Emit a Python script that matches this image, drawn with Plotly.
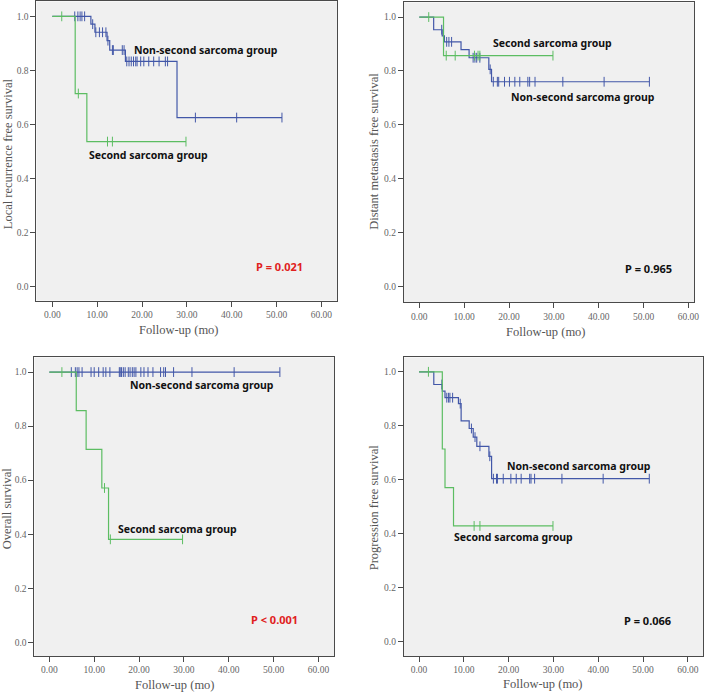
import plotly.graph_objects as go

# ---------------- data ----------------
x_tick_vals = [0, 10, 20, 30, 40, 50, 60]
x_tick_text = ["0.00", "10.00", "20.00", "30.00", "40.00", "50.00", "60.00"]
y_tick_vals = [0.0, 0.2, 0.4, 0.6, 0.8, 1.0]
y_tick_text = ["0.0", "0.2", "0.4", "0.6", "0.8", "1.0"]

# Panel A: local recurrence free survival
lr_non_event_t = [8.6, 9.5, 12.2, 12.8, 16.3, 27.8]
lr_non_surv = [0.971, 0.941, 0.910, 0.875, 0.833, 0.625]
lr_non_cens = [5.0, 5.7, 6.2, 6.6, 7.2, 9.0, 9.7, 10.5, 11.2, 11.95, 12.4, 13.4, 13.6, 15.6, 16.0,
               16.6, 17.1, 17.6, 18.1, 18.6, 18.9, 19.7, 20.4, 21.5, 22.6, 23.8, 25.2, 25.7,
               31.9, 41.1, 51.2]
lr_sec_event_t = [5.1, 7.7]
lr_sec_surv = [0.714, 0.536]
lr_sec_cens = [2.1, 5.8, 12.3, 13.4, 29.8]

# Panel B: distant metastasis free survival
dm_non_event_t = [3.2, 5.1, 5.6, 9.3, 11.1, 15.5, 16.1]
dm_non_surv = [0.953, 0.930, 0.908, 0.879, 0.849, 0.806, 0.760]
dm_non_cens = [5.0, 6.1, 6.6, 7.2, 12.0, 12.4, 12.8, 13.5, 15.8,
               16.5, 17.4, 17.7, 19.0, 20.1, 21.3, 22.4, 24.2, 24.6, 25.8, 32.0, 41.2, 51.3]
dm_sec_event_t = [5.4]
dm_sec_surv = [0.857]
dm_sec_cens = [2.1, 6.0, 8.0, 12.3, 13.1, 13.5, 29.8]

# Panel C: overall survival
os_non_event_t = []
os_non_surv = []
os_non_cens = [4.9, 5.8, 6.2, 6.6, 7.3, 9.3, 10.0, 11.0, 12.0, 12.6, 13.5, 15.6, 15.8, 16.1,
               16.5, 16.9, 17.6, 18.0, 18.5, 18.9, 19.3, 20.4, 21.1, 22.0, 23.1, 24.8, 25.5,
               25.9, 27.7, 31.8, 41.2, 51.4]
os_sec_event_t = [6.0, 8.2, 11.7, 13.2]
os_sec_surv = [0.857, 0.714, 0.571, 0.381]
os_sec_cens = [2.8, 12.3, 13.6, 29.7]

# Panel D: progression free survival
pfs_non_event_t = [3.3, 5.2, 5.8, 8.8, 9.4, 11.2, 12.1, 12.9, 15.6, 16.2]
pfs_non_surv = [0.953, 0.928, 0.904, 0.882, 0.818, 0.790, 0.758, 0.724, 0.687, 0.604]
pfs_non_cens = [5.1, 6.2, 6.6, 6.9, 7.5, 9.2, 11.7, 12.5, 13.6, 15.8, 16.6, 17.3, 17.5, 18.8,
                20.5, 21.7, 22.8, 24.7, 25.0, 25.8, 31.9, 41.1, 51.4]
pfs_sec_event_t = [5.2, 5.8, 7.7]
pfs_sec_surv = [0.714, 0.571, 0.429]
pfs_sec_cens = [2.1, 12.3, 13.6, 29.9]

y_titles = ["Local recurrence free survival", "Distant metastasis free survival",
            "Overall survival", "Progression free survival"]
x_title = "Follow-up (mo)"
p_texts = ["P = 0.021", "P = 0.965", "P < 0.001", "P = 0.066"]
non_label = "Non-second sarcoma group"
sec_label = "Second sarcoma group"

# ---------------- styling / layout ----------------
BLUE = "#4257a8"
GREEN = "#5cbd62"
W, H = 709, 692

panels = [
    dict(non=(lr_non_event_t, lr_non_surv, lr_non_cens), sec=(lr_sec_event_t, lr_sec_surv, lr_sec_cens),
         xpx=(36.7, 339.3), ypx=(0.5, 300), xr=[-3.54, 63.45], yr=[-0.053, 1.055],
         non_pos=(17.8, 0.874), sec_pos=(7.7, 0.485), p_pos=(44.9, 0.073), p_color="#e02020",
         ytitle_px=(7.5, 153), xtitle_px=(180.7, 329)),
    dict(non=(dm_non_event_t, dm_non_surv, dm_non_cens), sec=(dm_sec_event_t, dm_sec_surv, dm_sec_cens),
         xpx=(406.7, 699.0), ypx=(1.5, 301.7), xr=[-3.45, 61.26], yr=[-0.058, 1.054],
         non_pos=(20.1, 0.704), sec_pos=(16.0, 0.904), p_pos=(45.4, 0.069), p_color="#111111",
         ytitle_px=(376.7, 151), xtitle_px=(550, 331.5)),
    dict(non=(os_non_event_t, os_non_surv, os_non_cens), sec=(os_sec_event_t, os_sec_surv, os_sec_cens),
         xpx=(34.7, 336.7), ypx=(357, 656), xr=[-3.32, 63.54], yr=[-0.051, 1.054],
         non_pos=(17.6, 0.952), sec_pos=(14.8, 0.419), p_pos=(44.5, 0.085), p_color="#e02020",
         ytitle_px=(7.0, 508), xtitle_px=(175.8, 684.5)),
    dict(non=(pfs_non_event_t, pfs_non_surv, pfs_non_cens), sec=(pfs_sec_event_t, pfs_sec_surv, pfs_sec_cens),
         xpx=(406.7, 708.0), ypx=(357, 656), xr=[-3.39, 63.39], yr=[-0.053, 1.053],
         non_pos=(19.1, 0.652), sec_pos=(7.3, 0.387), p_pos=(45.4, 0.080), p_color="#111111",
         ytitle_px=(376.7, 508), xtitle_px=(547.3, 684)),
]


def surv_at(t, ev_t, ev_s):
    s = 1.0
    for et, es in zip(ev_t, ev_s):
        if et <= t:
            s = es
    return s


def km_traces(ev_t, ev_s, cens, color, xa, ya):
    end = max(cens + ev_t)
    xs = [0.0] + list(ev_t) + [end]
    ys = [1.0] + list(ev_s) + [ev_s[-1] if ev_s else 1.0]
    line = go.Scatter(x=xs, y=ys, mode="lines", line=dict(color=color, width=1.2, shape="hv"),
                      xaxis=xa, yaxis=ya, showlegend=False, hoverinfo="skip")
    cy = [surv_at(t, ev_t, ev_s) for t in cens]
    marks = go.Scatter(x=cens, y=cy, mode="markers",
                       marker=dict(symbol="line-ns", size=7, line=dict(color=color, width=1)),
                       xaxis=xa, yaxis=ya, showlegend=False, hoverinfo="skip")
    return [line, marks]


fig = go.Figure()
layout = dict(width=W, height=H, autosize=False, margin=dict(l=0, r=0, t=0, b=0),
              paper_bgcolor="white", plot_bgcolor="#f0f0f0", annotations=[])

tick_font = dict(family="Liberation Serif, DejaVu Serif, serif", size=9.5, color="#666666")
title_font = dict(family="Liberation Serif, DejaVu Serif, serif", size=12.5, color="#555555")
label_font = dict(family="Noto Sans, Open Sans, sans-serif", size=10.5, color="#111111")

for i, p in enumerate(panels):
    n = "" if i == 0 else str(i + 1)
    xa, ya = "x" + n, "y" + n
    for tr in km_traces(*p["non"], BLUE, xa, ya):
        fig.add_trace(tr)
    for tr in km_traces(*p["sec"], GREEN, xa, ya):
        fig.add_trace(tr)
    x0, x1 = p["xpx"]
    y0, y1 = p["ypx"]
    common = dict(showgrid=False, zeroline=False, showline=True, mirror=True, linecolor="#4a4a4a",
                  linewidth=1, ticks="outside", ticklen=5, tickcolor="#4a4a4a", tickfont=tick_font)
    layout["xaxis" + n] = dict(domain=[x0 / W, x1 / W], range=p["xr"], anchor=ya,
                               tickvals=x_tick_vals, ticktext=x_tick_text, **common)
    layout["yaxis" + n] = dict(domain=[1 - y1 / H, 1 - y0 / H], range=p["yr"], anchor=xa,
                               tickvals=y_tick_vals, ticktext=y_tick_text, **common)
    layout["annotations"] += [
        dict(x=p["non_pos"][0], y=p["non_pos"][1], xref=xa, yref=ya, text="<b>" + non_label + "</b>",
             showarrow=False, xanchor="left", yanchor="middle", font=label_font),
        dict(x=p["sec_pos"][0], y=p["sec_pos"][1], xref=xa, yref=ya, text="<b>" + sec_label + "</b>",
             showarrow=False, xanchor="left", yanchor="middle", font=label_font),
        dict(x=p["p_pos"][0], y=p["p_pos"][1], xref=xa, yref=ya, text="<b>" + p_texts[i] + "</b>",
             showarrow=False, xanchor="left", yanchor="middle",
             font=dict(family=label_font["family"], size=11, color=p["p_color"])),
        dict(x=p["xtitle_px"][0] / W, y=1 - p["xtitle_px"][1] / H, xref="paper", yref="paper",
             text=x_title, showarrow=False, xanchor="center", yanchor="middle", font=title_font),
        dict(x=p["ytitle_px"][0] / W, y=1 - p["ytitle_px"][1] / H, xref="paper", yref="paper",
             text=y_titles[i], showarrow=False, xanchor="center", yanchor="middle", textangle=-90,
             font=title_font),
    ]

fig.update_layout(**layout)
fig.write_html("out.html", config={"displayModeBar": False},
               post_script="document.body.style.margin='0px';document.body.style.overflow='hidden';")
